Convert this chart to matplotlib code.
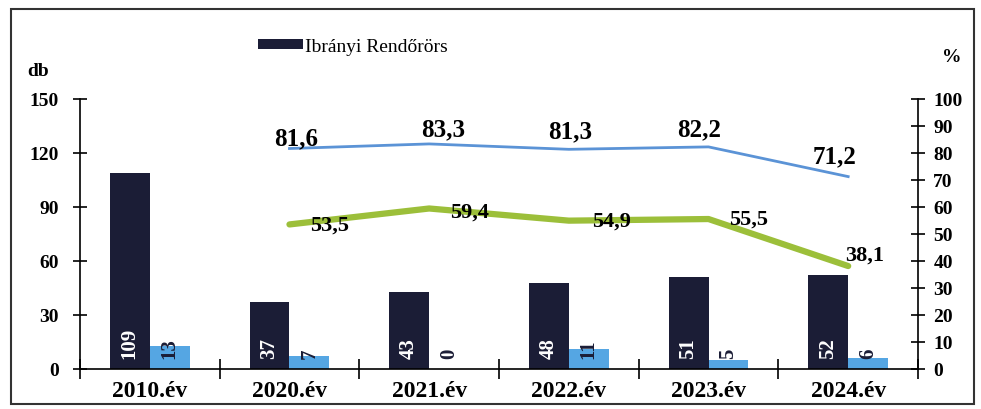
import numpy as np
import matplotlib.pyplot as plt
from matplotlib.patches import Rectangle

evek = ["2010.év", "2020.év", "2021.év", "2022.év", "2023.év", "2024.év"]
ibranyi = [109, 37, 43, 48, 51, 52]
masik = [13, 7, 0, 11, 5, 6]
# százalékos mutatók 2020-tól
kek_szazalek = [81.6, 83.3, 81.3, 82.2, 71.2]
zold_szazalek = [53.5, 59.4, 54.9, 55.5, 38.1]

plt.rcParams["font.family"] = ["Liberation Serif", "DejaVu Serif"]

sotet = "#1b1d36"
vilagos = "#55a6e3"
kek = "#5b93d6"
zold = "#9cbf3a"

fig = plt.figure(figsize=(9.81, 4.1), dpi=100)
fig.patch.set_facecolor("white")
ax = fig.add_axes([0.0815, 0.0976, 0.8543, 0.659])
ax2 = ax.twinx()

x = np.arange(len(evek))
w = 0.286
b1 = ax.bar(x - w / 2, ibranyi, w, color=sotet, label="Ibrányi Rendőrörs", zorder=2)
b2 = ax.bar(x + w / 2, masik, w, color=vilagos, zorder=2)

for xi, v in zip(x, ibranyi):
    ax.annotate(str(v), (xi - w / 2, 0), xytext=(0, 8), textcoords="offset points",
                rotation=90, ha="center", va="bottom", color="white",
                fontsize=15, fontweight="bold")
for xi, v in zip(x, masik):
    ax.annotate(str(v), (xi + w / 2, 0), xytext=(0, 8), textcoords="offset points",
                rotation=90, ha="center", va="bottom", color=sotet,
                fontsize=15, fontweight="bold")

xl = x[1:]
ax2.plot(xl, kek_szazalek, color=kek, lw=2, zorder=3)
ax2.plot(xl, zold_szazalek, color=zold, lw=4.5, zorder=3, solid_capstyle="round")

kek_off = [(5, 8), (10, 11), (1, 13), (-7, 13), (-10, 15)]
zold_off = [(29, 0), (29, -2), (31, 0), (29, 0), (12, 8)]
for xi, v, o in zip(xl, kek_szazalek, kek_off):
    ax2.annotate(f"{v:.1f}".replace(".", ","), (xi, v), xytext=o,
                 textcoords="offset points", ha="center", va="center",
                 fontsize=18, fontweight="bold", color="black", zorder=4)
for xi, v, o in zip(xl, zold_szazalek, zold_off):
    ax2.annotate(f"{v:.1f}".replace(".", ","), (xi, v), xytext=o,
                 textcoords="offset points", ha="center", va="center",
                 fontsize=16, fontweight="bold", color="black", zorder=4)

ax.set_xlim(-0.5, 5.5)
ax.set_ylim(0, 150)
ax2.set_ylim(0, 100)
ax.set_yticks(np.arange(0, 151, 30))
ax2.set_yticks(np.arange(0, 101, 10))

ax.set_xticks(np.arange(-0.5, 5.6, 1))
ax.set_xticklabels([])
ax.set_xticks(x, minor=True)
ax.set_xticklabels(evek, minor=True, fontsize=17, fontweight="bold")
ax.tick_params(axis="x", which="minor", length=0, pad=8)
ax.tick_params(axis="x", which="major", direction="inout", length=14, width=1.2)

ax.tick_params(axis="y", direction="inout", length=10, width=1.2, labelsize=14, pad=10)
ax2.tick_params(axis="y", direction="inout", length=10, width=1.2, labelsize=14, pad=6)
for t in ax.get_yticklabels() + ax2.get_yticklabels():
    t.set_fontweight("bold")

for a in (ax, ax2):
    a.spines["top"].set_visible(False)
    for s in ("left", "right", "bottom"):
        a.spines[s].set_linewidth(1.2)
ax.spines["right"].set_visible(False)
ax2.spines["left"].set_visible(False)
ax2.spines["bottom"].set_visible(False)

fig.text(0.039, 0.825, "db", fontsize=14, fontweight="bold", ha="center", va="center")
fig.text(0.97, 0.86, "%", fontsize=14, fontweight="bold", ha="center", va="center")

fig.legend(handles=[b1], loc="center", bbox_to_anchor=(0.36, 0.885), frameon=False,
           fontsize=14, handlelength=2.3, handleheight=0.4, handletextpad=0.1)

fig.patches.append(Rectangle((0.011, 0.012), 0.982, 0.963, transform=fig.transFigure,
                             fill=False, edgecolor="#333333", lw=1.5))

fig.savefig("out.png", dpi=100)
